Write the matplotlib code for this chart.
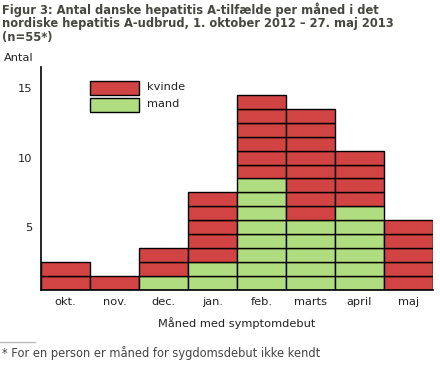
import matplotlib
matplotlib.use('Agg')
import matplotlib.pyplot as plt
from matplotlib.patches import Rectangle
from matplotlib.lines import Line2D

# data (cases per month of symptom onset)
months = ['okt.', 'nov.', 'dec.', 'jan.', 'feb.', 'marts', 'april', 'maj']
mand = [0, 0, 1, 2, 8, 5, 6, 0]
kvinde = [2, 1, 2, 5, 6, 8, 4, 5]
ytick_values = [5, 10, 15]

RED = '#d24343'
GREEN = '#afdd80'
TXT = '#222222'

fig = plt.figure(figsize=(4.4, 3.65), dpi=100)
ax = fig.add_axes([41 / 440, 1 - 290 / 365, 392 / 440, 223 / 365])

# one box per case: men first, women stacked on top
for i, (m, k) in enumerate(zip(mand, kvinde)):
    for j in range(m):
        ax.bar(i, 1, bottom=j, width=1, color=GREEN, edgecolor='black', linewidth=1)
    for j in range(k):
        ax.bar(i, 1, bottom=m + j, width=1, color=RED, edgecolor='black', linewidth=1)

ax.set_xlim(-0.5, len(months) - 0.5)
ax.set_ylim(0, 16)
ax.set_xticks(range(len(months)))
ax.set_xticklabels(months, fontsize=8.2, color=TXT)
ax.set_yticks([v - 0.5 for v in ytick_values])
ax.set_yticklabels([str(v) for v in ytick_values], fontsize=8.2, color=TXT)
ax.tick_params(length=0, pad=6)
ax.tick_params(axis='x', pad=5)
for side in ['top', 'right']:
    ax.spines[side].set_visible(False)
for side in ['left', 'bottom']:
    ax.spines[side].set_linewidth(1.2)
ax.set_xlabel('Måned med symptomdebut', fontsize=8.2, color=TXT, labelpad=7)

# legend boxes
leg = [('kvinde', RED, 80), ('mand', GREEN, 97)]
for label, col, ytop in leg:
    fig.patches.append(Rectangle((90 / 440, 1 - (ytop + 15) / 365), 49 / 440, 14 / 365,
                                 transform=fig.transFigure, facecolor=col,
                                 edgecolor='black', linewidth=1))
    fig.text(147 / 440, 1 - (ytop + 7) / 365, label, fontsize=8.2, color=TXT, va='center')

fig.text(4 / 440, 1 - 58 / 365, 'Antal', fontsize=8.2, color=TXT, va='center')

fig.text(2 / 440, 1 - 2 / 365,
         'Figur 3: Antal danske hepatitis A-tilfælde per måned i det\n'
         'nordiske hepatitis A-udbrud, 1. oktober 2012 \u2013 27. maj 2013\n'
         '(n=55*)',
         fontsize=8.3, fontweight='bold', color='#474740', va='top', linespacing=1.05)

fig.lines.append(Line2D([0, 35 / 440], [1 - 342 / 365, 1 - 342 / 365],
                        transform=fig.transFigure, color='#bbbbbb', linewidth=1))
fig.text(2 / 440, 1 - 353 / 365, '* For en person er måned for sygdomsdebut ikke kendt',
         fontsize=8.3, color='#444444', va='center')

fig.savefig('out.png', dpi=100)
